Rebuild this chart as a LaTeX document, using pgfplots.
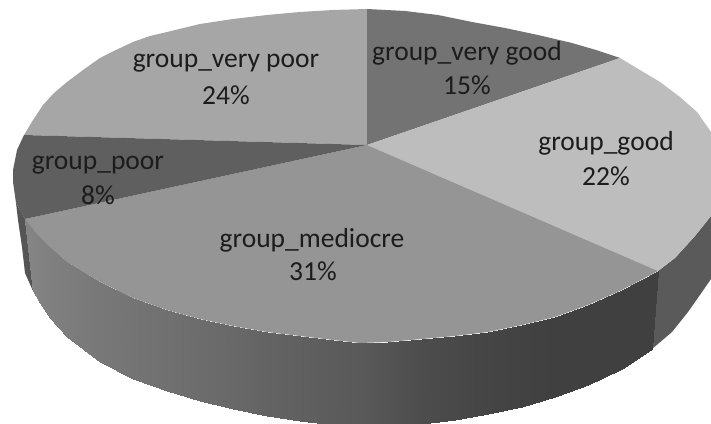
\documentclass[border=0pt]{standalone}
\usepackage{pgfplots}
\pgfplotsset{compat=1.18}
\usepackage{fontspec}
\setmainfont{Carlito}
\definecolor{vpoor}{HTML}{A6A6A6}
\definecolor{poor}{HTML}{5F5F5F}
\definecolor{medio}{HTML}{959595}
\definecolor{vgood}{HTML}{737373}
\definecolor{good}{HTML}{BDBDBD}
\definecolor{sideg}{HTML}{5A5A5A}
\definecolor{sidep}{HTML}{555555}
\definecolor{txt}{HTML}{1C1C1C}
\begin{document}
\begin{tikzpicture}
\path[use as bounding box] (0,0) rectangle (711bp,424bp);
\begin{axis}[
  at={(0,0)}, anchor=south west,
  scale only axis, width=711bp, height=424bp,
  xmin=0, xmax=711, ymin=0, ymax=424, y dir=reverse,
  hide axis, clip=true,
  colormap={g}{gray(0cm)=(0); gray(1cm)=(1)},
  point meta min=0, point meta max=1,
]
% side walls
\addplot[fill=sidep, draw=none] coordinates {(16,203)(25,219)(33,291)(25,273)(22,247)(18,220)} -- cycle;
\addplot[fill=sideg, draw=none] coordinates {(658,271)(675,258)(695,236)(711,216)(711,279)(702,292)(688,312)(672,332)(652,349)} -- cycle;
\addplot[patch, patch type=rectangle, shader=interp, point meta=explicit] table[x=x,y=y,meta=c] {
x y c
25 219 .52
37 234 .51
40 303 .51
33 291 .52
37 234 .51
50 247 .50
50 318 .50
40 303 .51
50 247 .50
67 262 .49
67 337 .49
50 318 .50
67 262 .49
100 282 .47
100 362 .47
67 337 .49
100 282 .47
133 298 .455
133 379 .455
100 362 .47
133 298 .455
167 310 .44
167 391 .44
133 379 .455
167 310 .44
200 319 .425
200 401 .425
167 391 .44
200 319 .425
233 326 .41
233 409 .41
200 401 .425
233 326 .41
267 332 .39
267 416 .39
233 409 .41
267 332 .39
300 336 .375
300 421 .375
267 416 .39
300 336 .375
333 340 .36
333 425 .36
300 421 .375
333 340 .36
360 343 .35
360 428 .35
333 425 .36
360 343 .35
388 342 .33
388 427 .33
360 428 .35
388 342 .33
422 339 .30
422 424 .30
388 427 .33
422 339 .30
455 336 .285
455 420 .285
422 424 .30
455 336 .285
488 332 .27
488 414 .27
455 420 .285
488 332 .27
522 325 .26
522 407 .26
488 414 .27
522 325 .26
555 317 .25
555 397 .25
522 407 .26
555 317 .25
588 305 .25
588 385 .25
555 397 .25
588 305 .25
622 290 .25
622 369 .25
588 385 .25
622 290 .25
658 271 .25
652 349 .25
622 369 .25
};
% top surfaces
\addplot[fill=vpoor, draw=none] coordinates {(367,145)(24,135)(33,120)(43,105)(54,93)(67,82)(83,70)(100,58)(116,50)(133,42)(150,36)(167,32)(200,24)(233,19)(267,15)(300,12)(333,10)(367,9)} -- cycle;
\addplot[fill=vgood, draw=none] coordinates {(367,145)(367,9)(405,11)(438,15)(472,22)(505,28)(538,35)(572,43)(596,50)(620,58)} -- cycle;
\addplot[fill=good, draw=none] coordinates {(367,145)(620,58)(640,70)(660,82)(680,97)(697,112)(711,132)(711,216)(695,236)(675,258)(658,271)} -- cycle;
\addplot[fill=medio, draw=none] coordinates {(367,145)(658,271)(622,290)(588,305)(555,317)(522,325)(488,332)(455,336)(422,339)(388,342)(360,343)(333,340)(300,336)(267,332)(233,326)(200,319)(167,310)(133,298)(100,282)(67,262)(50,247)(37,234)(25,219)} -- cycle;
\addplot[fill=poor, draw=none] coordinates {(367,145)(24,135)(17,150)(13,170)(13,182)(16,203)(25,219)} -- cycle;
% labels
\begin{scope}[every node/.style={font=\fontsize{27.5bp}{30bp}\selectfont, text=txt, anchor=center, inner sep=0pt}]
\node at (axis cs:226,63) {group\_very poor};
\node at (axis cs:226,95) {24\%};
\node at (axis cs:467,53) {group\_very good};
\node at (axis cs:467,85) {15\%};
\node at (axis cs:606,143) {group\_good};
\node at (axis cs:606,176) {22\%};
\node at (axis cs:98,165) {group\_poor};
\node at (axis cs:98,195) {8\%};
\node at (axis cs:312,240) {group\_mediocre};
\node at (axis cs:313,271) {31\%};
\end{scope}
\end{axis}
\end{tikzpicture}
\end{document}
